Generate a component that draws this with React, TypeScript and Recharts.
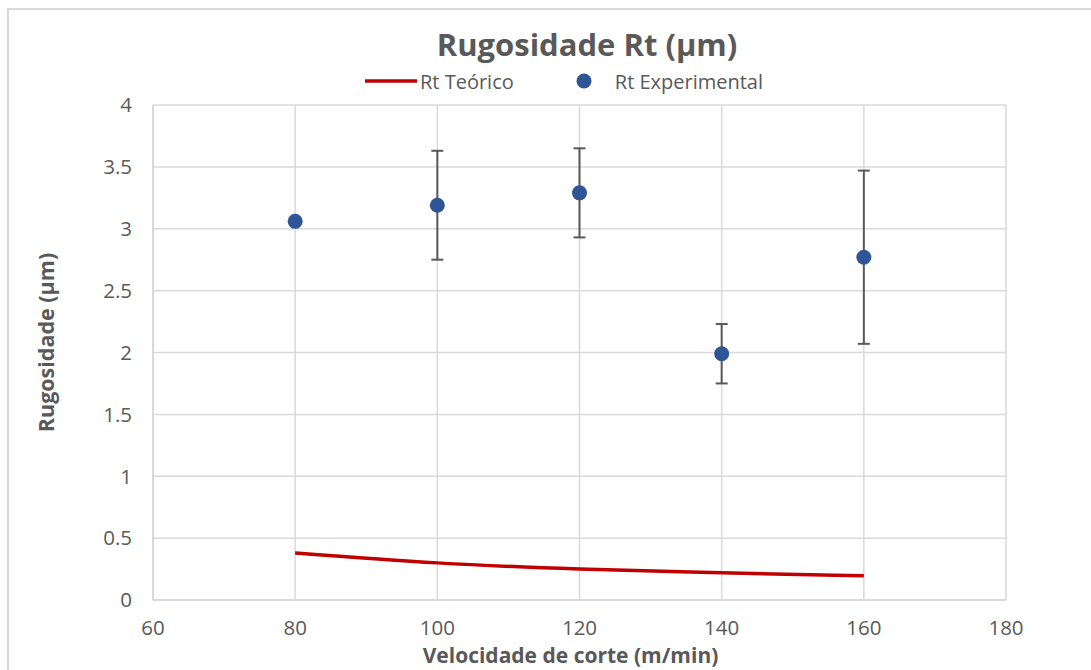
import React from 'react';
import { ComposedChart, Line, Scatter, XAxis, YAxis, CartesianGrid, ErrorBar } from 'recharts';

const velocities = [80, 100, 120, 140, 160];
const rtTeorico = [0.38, 0.30, 0.25, 0.22, 0.195];
const rtExperimental = [3.06, 3.19, 3.29, 1.99, 2.77];
const rtErro = [0, 0.44, 0.36, 0.24, 0.70];
const xTicks = [60, 80, 100, 120, 140, 160, 180];
const yTicks = [0, 0.5, 1, 1.5, 2, 2.5, 3, 3.5, 4];

const teoricoData = velocities.map((v, i) => ({ v, teo: rtTeorico[i] }));
const expData = velocities.map((v, i) => ({ v, exp: rtExperimental[i], err: rtErro[i] }));

const FONT = '"Open Sans", "Noto Sans", sans-serif';
const TXT = '#595959';
const GRID = '#d9d9d9';

const YTitle = (props: any) => {
  const vb = props.viewBox || {};
  const cx = vb.x + 25;
  const cy = vb.y + vb.height / 2 - 10;
  return (
    <text x={cx} y={cy} transform={`rotate(-90, ${cx}, ${cy})`} textAnchor="middle" dominantBaseline="central"
      fill={TXT} fontFamily={FONT} fontSize={21.5} fontWeight="bold">Rugosidade (µm)</text>
  );
};

const XTitle = (props: any) => {
  const vb = props.viewBox || {};
  const cx = vb.x + vb.width / 2 - 9;
  const cy = vb.y + 55;
  return (
    <text x={cx} y={cy} textAnchor="middle" dominantBaseline="central"
      fill={TXT} fontFamily={FONT} fontSize={21} fontWeight="bold">Velocidade de corte (m/min)</text>
  );
};

const Dot = (props: any) => <circle cx={props.cx} cy={props.cy} r={7.5} fill="#2F5597" />;

export default function App() {
  return (
    <div style={{ position: 'fixed', left: 0, top: 0, width: 1091, height: 670, overflow: 'hidden', background: '#fff' }}>
      <div style={{ position: 'absolute', left: 7, top: 8, width: 1200, height: 800, border: `2px solid ${GRID}` }} />
      <div style={{ position: 'absolute', left: 0, top: 22, width: 1091, textAlign: 'center', paddingLeft: 83, boxSizing: 'border-box',
        fontFamily: FONT, fontWeight: 'bold', fontSize: 31, color: TXT, lineHeight: '44px' }}>Rugosidade Rt (µm)</div>
      <div style={{ position: 'absolute', left: 364, top: 66, height: 30, display: 'flex', alignItems: 'center',
        fontFamily: FONT, fontSize: 20, color: TXT }}>
        <svg width={54} height={10} style={{ marginRight: 2 }}>
          <line x1={1} y1={5} x2={53} y2={5} stroke="#C00000" strokeWidth={3.5} />
        </svg>
        <span>Rt Teórico</span>
        <svg width={16} height={16} style={{ marginLeft: 62, marginRight: 23 }}>
          <circle cx={8} cy={8} r={7.5} fill="#2F5597" />
        </svg>
        <span>Rt Experimental</span>
      </div>
      <div style={{ position: 'absolute', left: 0, top: 0 }}>
        <ComposedChart width={1091} height={670} margin={{ top: 105, right: 85, bottom: 0, left: 20 }}>
          <CartesianGrid stroke={GRID} strokeWidth={1.5} />
          <XAxis type="number" dataKey="v" domain={[60, 180]} ticks={xTicks} allowDataOverflow
            height={70} tickSize={0} tickMargin={20} axisLine={{ stroke: GRID, strokeWidth: 2 }} tickLine={false}
            tick={{ fill: TXT, fontFamily: FONT, fontSize: 20.5 }} label={<XTitle />} />
          <YAxis type="number" domain={[0, 4]} ticks={yTicks} width={133} tickSize={0} tickMargin={21}
            axisLine={{ stroke: GRID, strokeWidth: 2 }} tickLine={false}
            tick={{ fill: TXT, fontFamily: FONT, fontSize: 20.5 }} label={<YTitle />} />
          <Line data={teoricoData} dataKey="teo" name="Rt Teórico" stroke="#C00000" strokeWidth={3.5} dot={false}
            isAnimationActive={false} type="monotone" />
          <Scatter data={expData} dataKey="exp" name="Rt Experimental" fill="#2F5597" shape={<Dot />} isAnimationActive={false}>
            <ErrorBar dataKey="err" direction="y" width={6} stroke="#595959" strokeWidth={2} />
          </Scatter>
        </ComposedChart>
      </div>
    </div>
  );
}
